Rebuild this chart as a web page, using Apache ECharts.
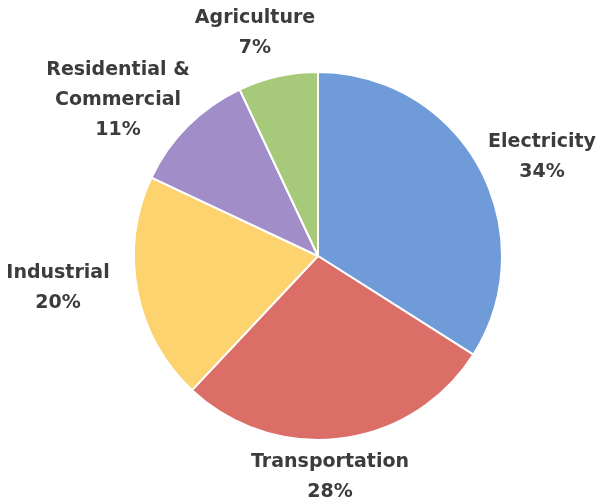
<!DOCTYPE html>
<html>
<head>
<meta charset="utf-8">
<script src="https://cdn.jsdelivr.net/npm/echarts@6/dist/echarts.min.js"></script>
<style>html,body{margin:0;padding:0;background:#fff}#c{width:600px;height:503px}</style>
</head>
<body>
<div id="c"></div>
<script>
const categories = ['Electricity', 'Transportation', 'Industrial', 'Residential &\nCommercial', 'Agriculture'];
const values = [34, 28, 20, 11, 7];
const colors = ['#6f9bd8', '#dc6e68', '#fdd36f', '#a18dc8', '#a6c97a'];
// label block centers (layout only)
const labelPos = [[542, 157], [330, 477], [58, 288], [118, 100], [255, 33]];

const chart = echarts.init(document.getElementById('c'));
chart.setOption({
  animation: false,
  series: [{
    type: 'pie',
    center: [318, 256],
    radius: 184,
    startAngle: 90,
    clockwise: true,
    data: categories.map((n, i) => ({ name: n, value: values[i], itemStyle: { color: colors[i] } })),
    itemStyle: { borderColor: '#ffffff', borderWidth: 2 },
    label: {
      show: true,
      position: 'outside',
      formatter: p => p.name + '\n' + p.value + '%',
      fontFamily: 'DejaVu Sans',
      fontSize: 19,
      fontWeight: 'bold',
      lineHeight: 30,
      color: '#3c3c3c',
      align: 'center',
      overflow: 'none',
      width: 300
    },
    labelLine: { show: false },
    labelLayout: p => ({
      x: labelPos[p.dataIndex][0],
      y: labelPos[p.dataIndex][1],
      align: 'center',
      verticalAlign: 'middle'
    })
  }]
});
</script>
</body>
</html>
